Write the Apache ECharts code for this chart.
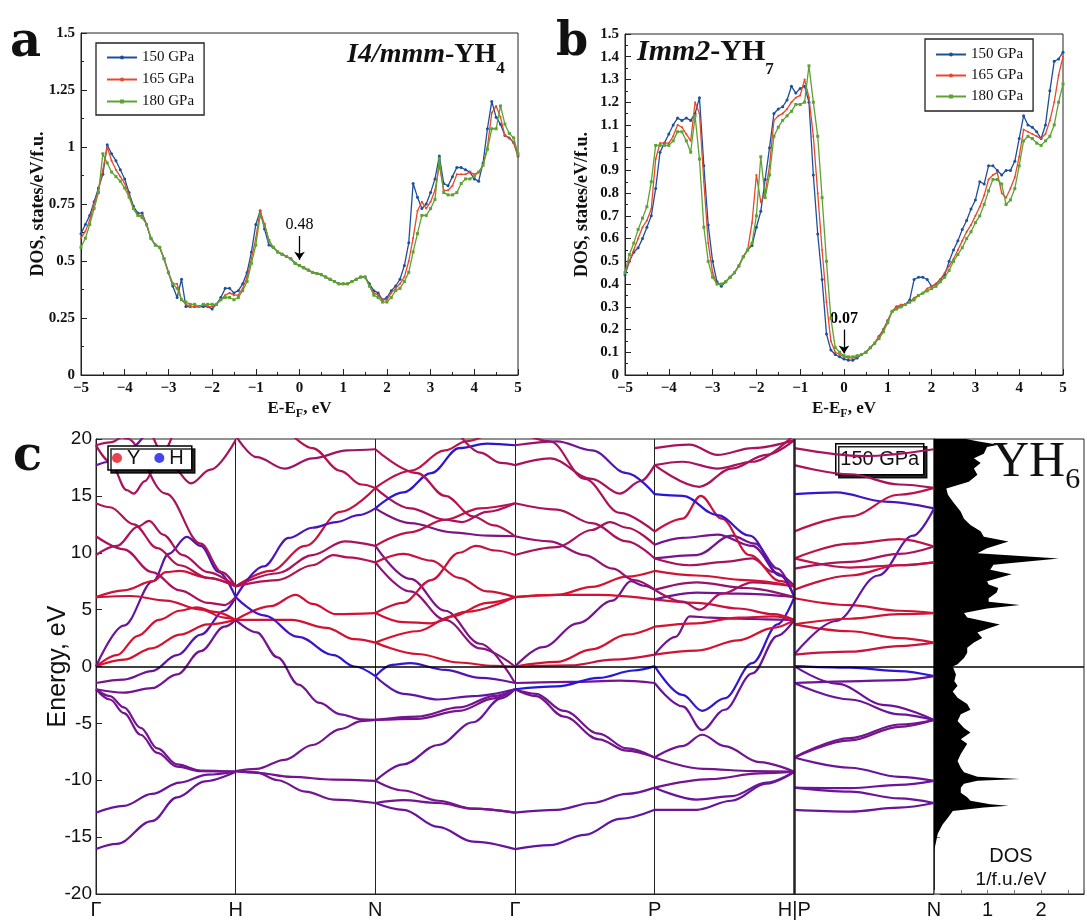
<!DOCTYPE html>
<html>
<head>
<meta charset="utf-8">
<title>YH4 / YH7 DOS and YH6 band structure</title>
<script src="https://cdn.jsdelivr.net/npm/echarts@6/dist/echarts.min.js"></script>
<style>
  html, body { margin: 0; padding: 0; background: #fff; }
  #chart { width: 1087px; height: 920px; }
</style>
</head>
<body>
<div id="chart"></div>
<script>
// ---------- panels a and b: DOS near the Fermi level ----------
const energySteps = [
  -5, -4.9, -4.8, -4.7, -4.6, -4.5, -4.4, -4.3, -4.2, -4.1,
  -4, -3.9, -3.8, -3.7, -3.6, -3.5, -3.4, -3.3, -3.2, -3.1,
  -3, -2.9, -2.8, -2.7, -2.6, -2.5, -2.4, -2.3, -2.2, -2.1,
  -2, -1.9, -1.8, -1.7, -1.6, -1.5, -1.4, -1.3, -1.2, -1.1,
  -1, -0.9, -0.8, -0.7, -0.6, -0.5, -0.4, -0.3, -0.2, -0.1,
  0, 0.1, 0.2, 0.3, 0.4, 0.5, 0.6, 0.7, 0.8, 0.9,
  1, 1.1, 1.2, 1.3, 1.4, 1.5, 1.6, 1.7, 1.8, 1.9,
  2, 2.1, 2.2, 2.3, 2.4, 2.5, 2.6, 2.7, 2.8, 2.9,
  3, 3.1, 3.2, 3.3, 3.4, 3.5, 3.6, 3.7, 3.8, 3.9,
  4, 4.1, 4.2, 4.3, 4.4, 4.5, 4.6, 4.7, 4.8, 4.9,
  5
];
const pressures = ['150 GPa', '165 GPa', '180 GPa'];

// I4/mmm-YH4
const dosYH4_150 = [
  .62, .66, .70, .76, .82, .88, 1.01, .97, .94, .90,
  .86, .80, .74, .71, .71, .66, .60, .57, .56, .51,
  .45, .39, .34, .42, .30, .30, .30, .30, .30, .30,
  .29, .31, .34, .38, .38, .36, .37, .40, .45, .54,
  .66, .72, .64, .57, .56, .54, .53, .52, .51, .49,
  .48, .47, .46, .45, .445, .44, .43, .42, .41, .40,
  .40, .40, .41, .42, .43, .43, .40, .37, .36, .33,
  .34, .37, .39, .42, .48, .58, .84, .78, .73, .75,
  .80, .86, .96, .84, .83, .87, .91, .91, .90, .89,
  .86, .85, .93, 1.08, 1.20, 1.13, 1.10, 1.05, 1.04, 1.02,
  .96
];
const dosYH4_165 = [
  .60, .63, .68, .75, .81, .90, 1.00, .94, .90, .87,
  .84, .79, .73, .70, .70, .66, .60, .57, .56, .51,
  .45, .40, .40, .33, .31, .30, .30, .30, .31, .30,
  .30, .31, .33, .35, .36, .35, .35, .38, .43, .51,
  .60, .72, .66, .59, .56, .54, .53, .52, .51, .49,
  .48, .47, .46, .45, .445, .44, .43, .42, .41, .40,
  .40, .40, .41, .42, .43, .43, .39, .36, .35, .33,
  .33, .36, .38, .40, .43, .50, .60, .72, .76, .73,
  .76, .81, .92, .81, .81, .83, .88, .88, .88, .89,
  .88, .89, .92, 1.00, 1.15, 1.18, 1.13, 1.05, 1.04, 1.02,
  .96
];
const dosYH4_180 = [
  .56, .60, .66, .73, .80, .97, .93, .89, .87, .85,
  .82, .78, .73, .70, .69, .66, .60, .57, .56, .51,
  .45, .40, .38, .33, .32, .31, .31, .30, .31, .31,
  .31, .31, .33, .34, .34, .33, .34, .37, .41, .49,
  .57, .70, .66, .59, .56, .54, .53, .52, .51, .49,
  .48, .47, .46, .45, .445, .44, .43, .42, .41, .40,
  .40, .40, .41, .42, .43, .43, .39, .35, .34, .32,
  .32, .34, .37, .38, .41, .45, .54, .62, .70, .70,
  .73, .77, .95, .80, .79, .79, .80, .84, .86, .86,
  .87, .89, .92, .99, 1.08, 1.08, 1.18, 1.10, 1.06, 1.04,
  .97
];

// Imm2-YH7
const dosYH7_150 = [
  .44, .50, .54, .56, .60, .65, .70, .82, .98, 1.02,
  1.06, 1.10, 1.13, 1.12, 1.13, 1.12, 1.15, 1.22, .92, .66,
  .50, .41, .39, .41, .43, .45, .48, .52, .55, .57,
  .65, .72, .86, 1.00, 1.15, 1.17, 1.18, 1.21, 1.27, 1.24,
  1.26, 1.27, 1.20, .88, .62, .42, .18, .11, .09, .08,
  .07, .065, .065, .075, .09, .10, .12, .14, .17, .20,
  .24, .28, .30, .30, .31, .33, .42, .43, .43, .42,
  .39, .40, .42, .44, .50, .55, .59, .64, .68, .73,
  .77, .85, .84, .92, .92, .90, .88, .90, .90, .94,
  1.04, 1.14, 1.10, 1.09, 1.07, 1.04, 1.10, 1.25, 1.38, 1.39,
  1.42
];
const dosYH7_165 = [
  .45, .50, .55, .60, .65, .68, .73, .95, 1.02, 1.02,
  1.02, 1.05, 1.10, 1.09, 1.06, 1.03, 1.20, 1.15, .85, .58,
  .45, .40, .40, .41, .43, .45, .48, .52, .55, .67,
  .88, .76, .80, .92, 1.12, 1.14, 1.15, 1.17, 1.20, 1.22,
  1.23, 1.30, 1.22, 1.05, .80, .55, .32, .15, .10, .09,
  .08, .075, .075, .08, .09, .10, .12, .14, .17, .20,
  .24, .28, .30, .31, .31, .32, .34, .35, .36, .38,
  .39, .40, .42, .45, .48, .51, .55, .59, .63, .66,
  .70, .74, .79, .86, .88, .89, .80, .78, .82, .87,
  .96, 1.08, 1.07, 1.06, 1.05, 1.04, 1.06, 1.12, 1.20, 1.32,
  1.40
];
const dosYH7_180 = [
  .45, .53, .58, .64, .69, .74, .85, 1.01, 1.01, 1.01,
  1.01, 1.03, 1.07, 1.07, 1.03, .98, 1.14, .95, .65, .50,
  .43, .40, .40, .41, .43, .45, .48, .52, .55, .58,
  .70, .96, .78, .88, 1.05, 1.09, 1.12, 1.14, 1.16, 1.19,
  1.19, 1.20, 1.36, 1.20, 1.05, .78, .50, .25, .12, .10,
  .085, .08, .08, .085, .09, .10, .12, .14, .16, .19,
  .23, .28, .29, .30, .31, .32, .33, .35, .36, .37,
  .38, .39, .41, .43, .46, .50, .53, .56, .60, .63,
  .67, .70, .75, .81, .86, .86, .84, .75, .77, .82,
  .92, 1.03, 1.05, 1.04, 1.02, 1.01, 1.03, 1.05, 1.10, 1.20,
  1.28
];

// ---------- panel c: YH6 bands, [H weight start, H weight end, [[t, E], ...]] ----------
const kLabels = ['Γ', 'H', 'N', 'Γ', 'P', 'H|P', 'N'];

const bandsGH = [
  [.6, .6, [[0, -16.05], [0.15, -15.6], [0.4, -13.6], [0.58, -11.5], [0.78, -10.1], [1, -9.25]]],
  [.6, .6, [[0, -12.85], [0.2, -12.25], [0.4, -11.2], [0.6, -10.2], [0.8, -9.5], [1, -9.25]]],
  [.55, .55, [[0, -2.0], [0.1, -2.9], [0.2, -4.1], [0.32, -6.0], [0.44, -7.6], [0.58, -8.8], [0.75, -9.2], [1, -9.25]]],
  [.55, .55, [[0, -2.0], [0.1, -2.6], [0.2, -3.6], [0.32, -5.4], [0.44, -7.2], [0.58, -8.6], [0.75, -9.15], [1, -9.25]]],
  [.55, .55, [[0, -2.0], [0.2, -2.3], [0.4, -1.9], [0.58, -0.7], [0.75, 1.35], [0.92, 3.5], [1, 4.1]]],
  [.5, .8, [[0, -1.45], [0.2, -1.15], [0.4, -0.4], [0.58, 1.0], [0.75, 2.8], [0.92, 4.9], [1, 6.1]]],
  [.08, .08, [[0, 0], [0.2, 0.6], [0.4, 1.6], [0.6, 2.8], [0.8, 3.7], [1, 4.1]]],
  [.1, .1, [[0, 0], [0.15, 1.0], [0.3, 2.7], [0.45, 4.1], [0.6, 4.9], [0.72, 5.2], [0.85, 4.8], [1, 4.1]]],
  [.55, .8, [[0, 0], [0.2, 3.6], [0.41, 7.5], [0.52, 9.9], [0.65, 11.4], [0.75, 10.6], [0.88, 8.3], [1, 6.1]]],
  [.12, .12, [[0, 6.1], [0.25, 6.2], [0.5, 5.8], [0.75, 5.0], [0.92, 4.3], [1, 4.1]]],
  [.12, .12, [[0, 6.1], [0.2, 6.7], [0.41, 7.5], [0.5, 8.3], [0.6, 8.4], [0.8, 7.8], [1, 7.05]]],
  [.3, .3, [[0, 11.45], [0.2, 10.3], [0.4, 8.3], [0.6, 6.7], [0.8, 5.6], [0.92, 5.4], [1, 6.1]]],
  [.3, .3, [[0, 9.8], [0.15, 10.6], [0.3, 12.3], [0.38, 12.8], [0.48, 11.6], [0.62, 9.8], [0.8, 8.3], [1, 7.05]]],
  [.25, .25, [[0, 14.35], [0.1, 14.0], [0.27, 12.5], [0.44, 10.4], [0.6, 8.9], [0.8, 7.8], [1, 7.05]]],
  [.3, .3, [[0, 23.5], [0.22, 20.05], [0.5, 15.2], [0.75, 10.8], [0.9, 8.3], [1, 7.05]]],
  [.3, .3, [[0, 19.45], [0.1, 18.0], [0.22, 15.5], [0.27, 15.2], [0.35, 16.3], [0.45, 18.2], [0.55, 20.4]]],
  [.3, .3, [[0.4, 20.4], [0.55, 17.5], [0.68, 16.1], [0.82, 17.3], [1, 19.9]]],
  [.6, .6, [[0, 17.7], [0.1, 18.0], [0.25, 19.2], [0.35, 20.4]]],
  [.3, .3, [[0, 19.45], [0.1, 19.7], [0.2, 20.4]]]
];
const bandsHN = [
  [.35, .35, [[0, 20.3], [0.15, 18.4], [0.35, 17.4], [0.55, 18.3], [0.8, 19.0], [1, 19.1]]],
  [.25, .25, [[0.4, 20.4], [0.55, 19.2], [0.75, 17.2], [0.9, 16.0], [1, 15.7]]],
  [.15, .15, [[0, 7.05], [0.25, 8.4], [0.5, 10.6], [0.75, 13.6], [1, 15.7]]],
  [.75, .75, [[0, 6.1], [0.2, 8.8], [0.38, 11.3], [0.55, 12.2], [0.72, 12.7], [0.88, 13.3], [1, 13.9]]],
  [.3, .3, [[0, 7.05], [0.3, 8.2], [0.55, 9.8], [0.78, 11.0], [1, 10.6]]],
  [.25, .25, [[0, 7.05], [0.3, 7.6], [0.55, 8.9], [0.7, 9.8], [0.8, 9.6], [1, 9.15]]],
  [.1, .1, [[0, 4.1], [0.25, 5.3], [0.43, 6.3], [0.55, 5.5], [0.72, 4.6], [1, 4.7]]],
  [.1, .1, [[0, 4.1], [0.4, 4.1], [0.65, 3.4], [0.85, 2.4], [1, 2.1]]],
  [.75, .9, [[0, 6.1], [0.2, 4.5], [0.45, 2.6], [0.7, 1.0], [0.85, 0.0], [1, -0.85]]],
  [.55, .55, [[0, 4.1], [0.15, 3.0], [0.3, 0.8], [0.45, -1.6], [0.6, -3.2], [0.75, -4.2], [0.9, -4.65], [1, -4.7]]],
  [.55, .55, [[0, -9.2], [0.15, -9.0], [0.35, -8.2], [0.55, -6.9], [0.75, -5.5], [0.9, -4.8], [1, -4.7]]],
  [.55, .55, [[0, -9.2], [0.15, -9.35], [0.4, -9.7], [0.7, -9.95], [1, -10.05]]],
  [.55, .55, [[0, -9.2], [0.15, -9.3], [0.3, -10.0], [0.5, -11.0], [0.7, -11.7], [1, -12.0]]]
];
const bandsNG = [
  [.6, .6, [[0, -12.0], [0.2, -12.6], [0.45, -14.1], [0.7, -15.4], [1, -16.05]]],
  [.55, .55, [[0, -12.0], [0.2, -11.75], [0.45, -12.0], [0.7, -12.5], [1, -12.85]]],
  [.55, .55, [[0, -10.05], [0.2, -10.9], [0.45, -11.8], [0.7, -12.5], [1, -12.85]]],
  [.6, .6, [[0, -10.05], [0.2, -8.6], [0.45, -6.9], [0.7, -4.9], [0.9, -2.8], [1, -2.0]]],
  [.55, .55, [[0, -4.7], [0.3, -4.4], [0.6, -3.6], [0.85, -2.6], [1, -2.0]]],
  [.55, .55, [[0, -4.7], [0.3, -4.6], [0.6, -3.9], [0.85, -2.8], [1, -2.0]]],
  [.65, .65, [[0, -0.85], [0.2, -2.4], [0.45, -2.9], [0.7, -2.6], [1, -2.0]]],
  [.9, .6, [[0, -0.85], [0.12, 0.15], [0.25, 0.3], [0.5, -0.3], [0.75, -1.0], [1, -1.45]]],
  [.08, .08, [[0, 2.1], [0.3, 3.1], [0.55, 4.4], [0.8, 5.6], [1, 6.1]]],
  [.08, .08, [[0, 2.1], [0.3, 1.1], [0.6, 0.35], [0.85, 0.05], [1, 0]]],
  [.5, .5, [[0, 10.6], [0.25, 7.7], [0.5, 4.9], [0.75, 2.0], [1, -1.45]]],
  [.45, .45, [[0, 9.15], [0.25, 6.6], [0.5, 4.1], [0.75, 1.6], [1, 0]]],
  [.15, .15, [[0, 9.15], [0.2, 9.9], [0.4, 9.3], [0.6, 7.8], [0.8, 6.6], [1, 6.1]]],
  [.15, .15, [[0, 4.7], [0.2, 5.6], [0.4, 7.6], [0.6, 10.0], [0.72, 10.6], [0.86, 10.2], [1, 9.8]]],
  [.1, .1, [[0, 4.7], [0.2, 3.9], [0.4, 3.8], [0.65, 4.8], [1, 6.1]]],
  [.5, .5, [[0, 13.9], [0.25, 12.6], [0.55, 11.8], [0.8, 11.5], [1, 11.45]]],
  [.2, .2, [[0, 10.6], [0.25, 11.8], [0.5, 12.9], [0.75, 13.9], [1, 14.35]]],
  [.3, .3, [[0, 15.7], [0.25, 13.9], [0.5, 12.9], [0.62, 12.7], [0.8, 13.6], [1, 14.35]]],
  [.9, .9, [[0, 13.9], [0.2, 15.3], [0.4, 17.0], [0.6, 19.2], [0.8, 19.6], [1, 19.45]]],
  [.2, .2, [[0, 15.7], [0.25, 17.2], [0.5, 19.0], [0.65, 19.8], [0.8, 20.4]]],
  [.25, .25, [[0, 19.1], [0.3, 17.0], [0.5, 15.0], [0.7, 13.2], [0.85, 12.4], [1, 11.45]]],
  [.3, .3, [[0.6, 20.4], [0.75, 18.8], [0.9, 17.9], [1, 17.7]]]
];
const bandsGP = [
  [.65, .65, [[0, -16.05], [0.25, -15.7], [0.5, -14.8], [0.75, -13.4], [1, -12.6]]],
  [.6, .6, [[0, -12.85], [0.3, -12.6], [0.55, -12.0], [0.8, -11.2], [1, -10.65]]],
  [.55, .55, [[0, -2.0], [0.15, -2.6], [0.35, -4.4], [0.6, -6.4], [0.8, -7.4], [1, -8.0]]],
  [.55, .55, [[0, -2.0], [0.15, -2.4], [0.35, -3.9], [0.6, -5.9], [0.8, -7.2], [1, -8.0]]],
  [.55, .55, [[0, -1.45], [0.4, -1.35], [0.75, -1.25], [1, -1.45]]],
  [.95, .95, [[0, -2.0], [0.3, -1.75], [0.6, -1.0], [0.85, -0.35], [1, 0.03]]],
  [.08, .08, [[0, 0], [0.3, 0.4], [0.55, 1.5], [0.8, 2.8], [1, 3.5]]],
  [.15, .15, [[0, 0], [0.4, 0.1], [0.7, 0.6], [1, 1.05]]],
  [.55, .55, [[0, 0], [0.2, 1.7], [0.45, 3.8], [0.7, 5.8], [0.83, 7.5], [0.92, 7.1], [1, 6.75]]],
  [.1, .1, [[0, 6.1], [0.3, 6.3], [0.6, 6.3], [1, 5.9]]],
  [.08, .08, [[0, 6.1], [0.3, 6.3], [0.55, 7.0], [0.8, 7.9], [1, 8.4]]],
  [.3, .3, [[0, 9.8], [0.3, 10.5], [0.55, 12.0], [0.68, 12.7], [0.8, 12.2], [1, 10.7]]],
  [.4, .4, [[0, 11.45], [0.25, 11.0], [0.5, 9.8], [0.7, 8.6], [0.85, 7.6], [1, 6.75]]],
  [.3, .3, [[0, 14.35], [0.3, 13.8], [0.55, 12.6], [0.8, 11.0], [1, 9.5]]],
  [.3, .3, [[0, 17.7], [0.25, 18.3], [0.55, 16.5], [0.75, 15.2], [0.9, 16.3], [1, 17.7]]],
  [.3, .3, [[0, 20.8], [0.25, 19.8], [0.5, 16.5], [0.75, 13.5], [1, 11.87]]],
  [.3, .9, [[0, 19.45], [0.3, 19.8], [0.55, 19.0], [0.8, 17.0], [1, 15.15]]]
];
const bandsPH = [
  [.6, .6, [[0, -12.6], [0.3, -12.6], [0.55, -11.8], [0.8, -10.3], [1, -9.25]]],
  [.6, .6, [[0, -10.65], [0.3, -11.7], [0.55, -11.4], [0.8, -10.2], [1, -9.25]]],
  [.55, .55, [[0, -10.65], [0.4, -9.9], [0.75, -9.4], [1, -9.25]]],
  [.55, .55, [[0, -8.0], [0.35, -9.0], [0.7, -9.2], [1, -9.25]]],
  [.55, .55, [[0, -8.0], [0.2, -7.0], [0.34, -6.0], [0.5, -7.0], [0.75, -8.4], [1, -9.25]]],
  [.85, .85, [[0, 0.03], [0.2, -2.5], [0.34, -3.9], [0.5, -2.8], [0.7, 0.3], [0.88, 3.7], [1, 6.1]]],
  [.6, .6, [[0, -1.45], [0.2, -3.5], [0.34, -5.6], [0.5, -3.8], [0.7, -0.6], [0.88, 2.7], [1, 4.1]]],
  [.1, .1, [[0, 1.05], [0.3, 1.4], [0.6, 2.3], [0.85, 3.4], [1, 4.1]]],
  [.55, .55, [[0, 1.05], [0.15, 2.6], [0.25, 4.4], [0.4, 4.3], [0.6, 4.2], [0.8, 4.15], [1, 4.1]]],
  [.08, .08, [[0, 3.5], [0.3, 3.8], [0.6, 4.3], [0.85, 4.4], [1, 4.1]]],
  [.15, .15, [[0, 5.9], [0.3, 5.6], [0.6, 5.1], [0.85, 4.6], [1, 4.1]]],
  [.55, .55, [[0, 5.9], [0.3, 6.5], [0.6, 6.4], [1, 6.1]]],
  [.3, .3, [[0, 6.75], [0.2, 5.7], [0.32, 5.0], [0.48, 6.4], [0.7, 7.4], [1, 7.05]]],
  [.4, .4, [[0, 6.75], [0.3, 7.4], [0.65, 6.9], [1, 6.1]]],
  [.1, .1, [[0, 8.4], [0.3, 8.0], [0.65, 7.6], [1, 7.05]]],
  [.55, .55, [[0, 9.5], [0.3, 9.8], [0.55, 11.5], [0.72, 10.8], [0.88, 8.6], [1, 6.1]]],
  [.3, .3, [[0, 9.5], [0.25, 8.9], [0.5, 9.2], [0.7, 9.5], [0.85, 8.3], [1, 7.05]]],
  [.55, .55, [[0, 10.7], [0.2, 11.3], [0.45, 11.6], [0.7, 10.6], [0.9, 8.0], [1, 7.05]]],
  [.15, .15, [[0, 11.87], [0.2, 13.0], [0.33, 15.0], [0.48, 13.0], [0.68, 9.8], [0.9, 7.5], [1, 7.05]]],
  [.95, .7, [[0, 15.15], [0.2, 15.0], [0.45, 13.3], [0.68, 11.5], [0.9, 8.0], [1, 6.1]]],
  [.3, .3, [[0, 17.7], [0.32, 15.8], [0.55, 17.4], [0.8, 18.6], [1, 19.9]]],
  [.3, .3, [[0, 17.7], [0.2, 18.0], [0.45, 17.4], [0.7, 18.0], [1, 20.4]]],
  [.3, .3, [[0, 19.2], [0.25, 19.5], [0.45, 18.6], [0.7, 19.2], [1, 19.9]]]
];
const bandsPN = [
  [.6, .6, [[0, -12.6], [0.4, -12.75], [0.75, -12.4], [1, -12.0]]],
  [.6, .6, [[0, -10.65], [0.4, -11.0], [0.75, -11.6], [1, -12.0]]],
  [.6, .6, [[0, -8.0], [0.4, -8.9], [0.75, -9.7], [1, -10.05]]],
  [.6, .6, [[0, -10.65], [0.4, -10.7], [0.75, -10.4], [1, -10.05]]],
  [.55, .55, [[0, -8.0], [0.4, -6.5], [0.75, -5.3], [1, -4.7]]],
  [.55, .55, [[0, -8.0], [0.4, -6.3], [0.75, -5.1], [1, -4.7]]],
  [.6, .6, [[0, -1.45], [0.4, -2.9], [0.75, -4.2], [1, -4.7]]],
  [.6, .6, [[0, 0.03], [0.3, -1.5], [0.65, -3.4], [1, -4.7]]],
  [.9, .9, [[0, 0.03], [0.4, -0.1], [0.75, -0.4], [1, -0.85]]],
  [.6, .6, [[0, -1.45], [0.4, -1.3], [0.75, -1.2], [1, -0.85]]],
  [.15, .15, [[0, 1.05], [0.4, 1.3], [0.75, 1.8], [1, 2.1]]],
  [.1, .1, [[0, 3.7], [0.4, 3.1], [0.75, 2.5], [1, 2.1]]],
  [.1, .1, [[0, 6.0], [0.4, 5.4], [0.75, 4.9], [1, 4.7]]],
  [.6, .7, [[0, 1.05], [0.3, 4.0], [0.6, 8.0], [0.85, 11.5], [1, 13.9]]],
  [.1, .1, [[0, 3.7], [0.4, 4.2], [0.75, 4.6], [1, 4.7]]],
  [.15, .15, [[0, 6.75], [0.4, 8.0], [0.75, 8.9], [1, 9.15]]],
  [.2, .2, [[0, 9.5], [0.4, 8.7], [0.75, 8.9], [1, 9.15]]],
  [.2, .2, [[0, 9.5], [0.4, 10.8], [0.75, 11.2], [1, 10.55]]],
  [.3, .3, [[0, 8.6], [0.4, 9.2], [0.75, 9.9], [1, 10.55]]],
  [.9, .7, [[0, 15.15], [0.3, 15.3], [0.65, 14.5], [1, 13.9]]],
  [.2, .2, [[0, 11.87], [0.4, 13.2], [0.75, 15.1], [1, 15.7]]],
  [.3, .3, [[0, 17.7], [0.4, 16.9], [0.75, 16.0], [1, 15.7]]],
  [.3, .3, [[0, 19.2], [0.5, 18.5], [1, 19.1]]]
];

// YH6 total DOS (1/f.u./eV) against energy
const dosE = [-20, -16.2, -15.6, -14.7, -13.9, -13.3, -12.7, -12.4, -12.25, -12.1,
  -11.8, -11.5, -11.1, -10.65, -10.3, -10.05, -9.9, -9.7, -9.3, -8.9,
  -8.3, -7.7, -6.8, -6.4, -5.8, -5.4, -4.8, -4.2, -3.8, -3.3,
  -2.75, -2.2, -1.7, -1.3, -0.7, 0, 0.2, 0.75, 1.2, 1.65,
  2.1, 2.5, 3.0, 3.4, 3.7, 4.3, 4.7, 5.1, 5.4, 5.7,
  6.0, 6.5, 6.9, 7.2, 7.5, 8.1, 8.5, 8.95, 9.5, 9.95,
  10.4, 11.0, 11.4, 11.9, 12.45, 13.0, 13.6, 14.5, 15.1, 15.65,
  16.25, 16.85, 17.4, 17.9, 18.3, 18.7, 19.3, 19.5, 19.8, 20];
const dosV = [0, 0, .03, .07, .16, .26, .35, .93, 1.39, 1.05,
  .68, .62, .50, .50, .56, .81, 1.60, .81, .56, .50,
  .44, .50, .62, .50, .68, .56, .44, .50, .68, .62,
  .44, .35, .44, .38, .41, .35, .44, .56, .62, .62,
  .745, .90, .81, 1.05, 1.23, .62, .56, .99, 1.60, 1.02,
  1.02, 1.17, 1.20, 1.02, .99, 1.45, 1.05, 1.11, 2.33, .81,
  .99, 1.39, .93, .87, .68, .56, .50, .35, .26, .23,
  .65, .81, .745, .87, .745, .93, .99, 1.20, .81, .60];

// ---------- helpers ----------
const SERIF = 'Liberation Serif';
const SANS = 'Liberation Sans';
const lineColors = ['#1c4f9c', '#e8482c', '#5ca332'];
const lineSymbols = ['circle', 'circle', 'rect'];
const Y_RGB = [232, 18, 30];
const H_RGB = [22, 22, 236];

const minus = (v) => String(v).replace('-', '\u2212');

function mixColor(w) {
  const c = Y_RGB.map((v, i) => Math.round(v + (H_RGB[i] - v) * w));
  return 'rgb(' + c.join(',') + ')';
}
function bandColor(w0, w1) {
  if (w0 === w1) return mixColor(w0);
  return {
    type: 'linear', x: 0, y: 0, x2: 1, y2: 0,
    colorStops: [{ offset: 0, color: mixColor(w0) }, { offset: 1, color: mixColor(w1) }]
  };
}

const subName = {
  m: { fontFamily: SERIF, fontWeight: 'bold', fontSize: 17, lineHeight: 20, verticalAlign: 'top', color: '#111' },
  s: { fontFamily: SERIF, fontWeight: 'bold', fontSize: 12, lineHeight: 27, verticalAlign: 'middle', color: '#111' }
};

function dosXAxis(gridIndex) {
  return {
    type: 'value', gridIndex, min: -5, max: 5, interval: 1,
    axisLine: { onZero: false, lineStyle: { color: '#222', width: 1 } },
    axisTick: { inside: true, length: 6, lineStyle: { color: '#222' } },
    minorTick: { show: true, splitNumber: 2, length: 3, lineStyle: { color: '#222' } },
    splitLine: { show: false },
    axisLabel: { formatter: minus, fontFamily: SERIF, fontWeight: 'bold', fontSize: 15, color: '#111', margin: 6 },
    name: '{m|E-E}{s|F}{m|, eV}', nameLocation: 'middle', nameGap: 25, nameMoveOverlap: false,
    nameTextStyle: { rich: subName }
  };
}
function dosYAxis(gridIndex, interval, fmt) {
  return {
    type: 'value', gridIndex, min: 0, max: 1.5, interval,
    axisLine: { onZero: false, lineStyle: { color: '#222', width: 1 } },
    axisTick: { inside: true, length: 6, lineStyle: { color: '#222' } },
    minorTick: { show: true, splitNumber: 2, length: 3, lineStyle: { color: '#222' } },
    splitLine: { show: false },
    axisLabel: { formatter: fmt, fontFamily: SERIF, fontWeight: 'bold', fontSize: 15, color: '#111', margin: 6 },
    name: 'DOS, states/eV/f.u.', nameLocation: 'middle', nameGap: 34, nameMoveOverlap: false,
    nameTextStyle: { fontFamily: SERIF, fontWeight: 'bold', fontSize: 18, color: '#111' }
  };
}
function dosSeries(axisIndex, values, i) {
  return {
    name: pressures[i], type: 'line', xAxisIndex: axisIndex, yAxisIndex: axisIndex,
    data: energySteps.map((e, k) => [e, values[k]]),
    symbol: lineSymbols[i], symbolSize: i === 1 ? 2 : 3, showSymbol: true,
    lineStyle: { width: 1.3, color: lineColors[i] },
    itemStyle: { color: lineColors[i] },
    z: 3 + i
  };
}
function arrowMark(value, text, bold) {
  return {
    silent: true, symbol: ['none', 'arrow'], symbolSize: 8,
    lineStyle: { color: '#000', width: 1.3, type: 'solid' },
    label: { show: true, position: 'start', formatter: text, color: '#000', fontFamily: SERIF,
      fontWeight: bold ? 'bold' : 'normal', fontSize: 16, distance: 3 },
    data: [[{ coord: [0, value + 0.13] }, { coord: [0, value + 0.025] }]]
  };
}

// ---------- series ----------
const series = [];
[dosYH4_150, dosYH4_165, dosYH4_180].forEach((v, i) => series.push(dosSeries(0, v, i)));
[dosYH7_150, dosYH7_165, dosYH7_180].forEach((v, i) => series.push(dosSeries(1, v, i)));
series[0].markLine = arrowMark(dosYH4_150[energySteps.indexOf(0)], '0.48', false);
series[3].markLine = arrowMark(dosYH7_150[energySteps.indexOf(0)], '0.07', true);

const segments = [bandsGH, bandsHN, bandsNG, bandsGP, bandsPH, bandsPN];
segments.forEach((bands, s) => {
  bands.forEach(([w0, w1, pts]) => {
    series.push({
      type: 'line', xAxisIndex: 2, yAxisIndex: 2, silent: true,
      data: pts.map(([t, e]) => [s + t, e]),
      smooth: 0.35, smoothMonotone: 'x', symbol: 'none', showSymbol: false,
      lineStyle: { width: 2.2, color: bandColor(w0, w1) },
      z: 3
    });
  });
});

// reference lines: Fermi level and the H|P break
series.push({
  type: 'line', xAxisIndex: 2, yAxisIndex: 2, data: [], silent: true, z: 6,
  markLine: {
    silent: true, symbol: 'none', label: { show: false },
    lineStyle: { color: '#000', type: 'solid', width: 1.5 },
    data: [{ yAxis: 0 }, { xAxis: 5, lineStyle: { color: '#222', width: 2.5, type: 'solid' } }]
  }
});

// legend-only entries for the projection colours
series.push({ name: 'Y', type: 'scatter', xAxisIndex: 2, yAxisIndex: 2, data: [], itemStyle: { color: mixColor(0) } });
series.push({ name: 'H', type: 'scatter', xAxisIndex: 2, yAxisIndex: 2, data: [], itemStyle: { color: mixColor(1) } });

// filled DOS of YH6
series.push({
  type: 'custom', xAxisIndex: 3, yAxisIndex: 3, silent: true, data: [[0, 0]],
  renderItem: (params, api) => {
    const pts = dosE.map((e, i) => api.coord([dosV[i], e]));
    pts.unshift(api.coord([0, dosE[0]]));
    pts.push(api.coord([0, dosE[dosE.length - 1]]));
    return { type: 'polygon', shape: { points: pts }, style: { fill: '#000' } };
  }
});
series.push({
  type: 'line', xAxisIndex: 3, yAxisIndex: 3, data: [], silent: true, z: 6,
  markLine: {
    silent: true, symbol: 'none', label: { show: false },
    lineStyle: { color: '#000', type: 'solid', width: 1.5 },
    data: [{ yAxis: 0 }]
  }
});

// ---------- option ----------
const gridBox = { show: true, borderColor: '#222', borderWidth: 1, backgroundColor: 'transparent' };
const option = {
  animation: false,
  backgroundColor: '#fff',
  textStyle: { fontFamily: SERIF },
  grid: [
    Object.assign({ left: 81, top: 33, width: 437, height: 342 }, gridBox),
    Object.assign({ left: 625, top: 34, width: 438, height: 341 }, gridBox),
    Object.assign({ left: 96, top: 439, width: 838, height: 456 }, gridBox),
    Object.assign({ left: 934, top: 439, width: 153, height: 456 }, gridBox)
  ],
  xAxis: [
    dosXAxis(0),
    dosXAxis(1),
    {
      type: 'value', gridIndex: 2, min: 0, max: 6, interval: 1,
      axisLine: { onZero: false, lineStyle: { color: '#222' } },
      axisTick: { show: false },
      splitLine: { show: true, lineStyle: { color: '#222', width: 1 } },
      axisLabel: { formatter: (v) => kLabels[v] || '', fontFamily: SANS, fontSize: 20, color: '#111', margin: 6 }
    },
    {
      type: 'value', gridIndex: 3, min: 0, max: 2.8, interval: 0.5,
      axisLine: { onZero: false, lineStyle: { color: '#222' } },
      axisTick: { inside: true, length: 4, lineStyle: { color: '#777' } },
      splitLine: { show: false },
      axisLabel: { formatter: (v) => (v === 1 || v === 2 ? String(v) : ''), fontFamily: SANS, fontSize: 20, color: '#111', margin: 6 }
    }
  ],
  yAxis: [
    dosYAxis(0, 0.25, (v) => String(+v.toFixed(2))),
    dosYAxis(1, 0.1, (v) => String(+v.toFixed(1))),
    {
      type: 'value', gridIndex: 2, min: -20, max: 20, interval: 5,
      axisLine: { onZero: false, lineStyle: { color: '#222' } },
      axisTick: { inside: true, length: 6, lineStyle: { color: '#222' } },
      splitLine: { show: false },
      axisLabel: { fontFamily: SANS, fontSize: 19, color: '#111', margin: 4 },
      name: 'Energy, eV', nameLocation: 'middle', nameGap: 25, nameMoveOverlap: false,
      nameTextStyle: { fontFamily: SANS, fontSize: 25, color: '#111' }
    },
    {
      type: 'value', gridIndex: 3, min: -20, max: 20, interval: 5,
      axisLine: { onZero: false, lineStyle: { color: '#222' } },
      axisTick: { inside: true, length: 6, lineStyle: { color: '#777' } },
      splitLine: { show: false },
      axisLabel: { show: false }
    }
  ],
  legend: [
    {
      data: pressures, orient: 'vertical', left: 96, top: 43,
      padding: [6, 10, 5, 10], itemGap: 5, itemWidth: 30, itemHeight: 5,
      borderColor: '#222', borderWidth: 1.3, backgroundColor: '#fff',
      textStyle: { fontFamily: SERIF, fontSize: 15, color: '#111', lineHeight: 17 }
    },
    {
      data: pressures, orient: 'vertical', left: 925, top: 39,
      padding: [7, 10, 6, 10], itemGap: 4, itemWidth: 30, itemHeight: 5,
      borderColor: '#222', borderWidth: 1.3, backgroundColor: '#fff',
      textStyle: { fontFamily: SERIF, fontSize: 15, color: '#111', lineHeight: 17 }
    },
    {
      data: ['Y', 'H'], orient: 'horizontal', left: 108, top: 446, icon: 'circle',
      itemWidth: 10, itemHeight: 10, itemGap: 14, padding: [2, 8, 2, 4],
      borderColor: '#000', borderWidth: 1.5, backgroundColor: '#fff',
      shadowColor: 'rgba(0,0,0,0.85)', shadowBlur: 0, shadowOffsetX: 3, shadowOffsetY: 3,
      textStyle: { fontFamily: SANS, fontSize: 20, color: '#111' }
    }
  ],
  graphic: [
    { type: 'text', x: 10, y: 44, style: { text: 'a', font: 'bold 48px "DejaVu Serif"', fill: '#111', verticalAlign: 'middle' } },
    { type: 'text', x: 556, y: 43, style: { text: 'b', font: 'bold 46px "DejaVu Serif"', fill: '#111', verticalAlign: 'middle' } },
    { type: 'text', x: 13, y: 458, style: { text: 'c', font: 'bold 48px "DejaVu Serif"', fill: '#111', verticalAlign: 'middle' } },
    {
      type: 'text', x: 347, y: 41,
      style: {
        text: '{i|I4/mmm}{b|-YH}{s|4}', verticalAlign: 'top', fill: '#111',
        rich: {
          i: { fontFamily: SERIF, fontWeight: 'bold', fontStyle: 'italic', fontSize: 28, lineHeight: 30, verticalAlign: 'top' },
          b: { fontFamily: SERIF, fontWeight: 'bold', fontSize: 28, lineHeight: 30, verticalAlign: 'top' },
          s: { fontFamily: SERIF, fontWeight: 'bold', fontSize: 17, lineHeight: 56, verticalAlign: 'middle' }
        }
      }
    },
    {
      type: 'text', x: 637, y: 37,
      style: {
        text: '{i|Imm2}{b|-YH}{s|7}', verticalAlign: 'top', fill: '#111',
        rich: {
          i: { fontFamily: SERIF, fontWeight: 'bold', fontStyle: 'italic', fontSize: 30, lineHeight: 32, verticalAlign: 'top' },
          b: { fontFamily: SERIF, fontWeight: 'bold', fontSize: 30, lineHeight: 32, verticalAlign: 'top' },
          s: { fontFamily: SERIF, fontWeight: 'bold', fontSize: 17, lineHeight: 66, verticalAlign: 'middle' }
        }
      }
    },
    {
      type: 'text', x: 993, y: 438, z: 10,
      style: {
        text: '{b|YH}{s|6}', verticalAlign: 'top', fill: '#111',
        rich: {
          b: { fontFamily: SERIF, fontSize: 50, lineHeight: 56, verticalAlign: 'top' },
          s: { fontFamily: SERIF, fontSize: 30, lineHeight: 84, verticalAlign: 'middle' }
        }
      }
    },
    {
      type: 'group', left: 835, top: 443, z: 10,
      children: [
        { type: 'rect', shape: { x: 0, y: 0, width: 88, height: 31 },
          style: { fill: '#fff', stroke: '#000', lineWidth: 1.5, shadowColor: 'rgba(0,0,0,0.85)', shadowOffsetX: 3, shadowOffsetY: 3 } },
        { type: 'text', x: 44, y: 16, style: { text: '150 GPa', font: '20px "Liberation Sans"', fill: '#111', align: 'center', verticalAlign: 'middle' } }
      ]
    },
    { type: 'text', x: 1011, y: 856, z: 10, style: { text: 'DOS', font: '20px "Liberation Sans"', fill: '#111', align: 'center', verticalAlign: 'middle' } },
    { type: 'text', x: 1011, y: 880, z: 10, style: { text: '1/f.u./eV', font: '19px "Liberation Sans"', fill: '#111', align: 'center', verticalAlign: 'middle' } }
  ],
  series
};

const chart = echarts.init(document.getElementById('chart'));
chart.setOption(option);
window.addEventListener('resize', () => chart.resize());
</script>
</body>
</html>
